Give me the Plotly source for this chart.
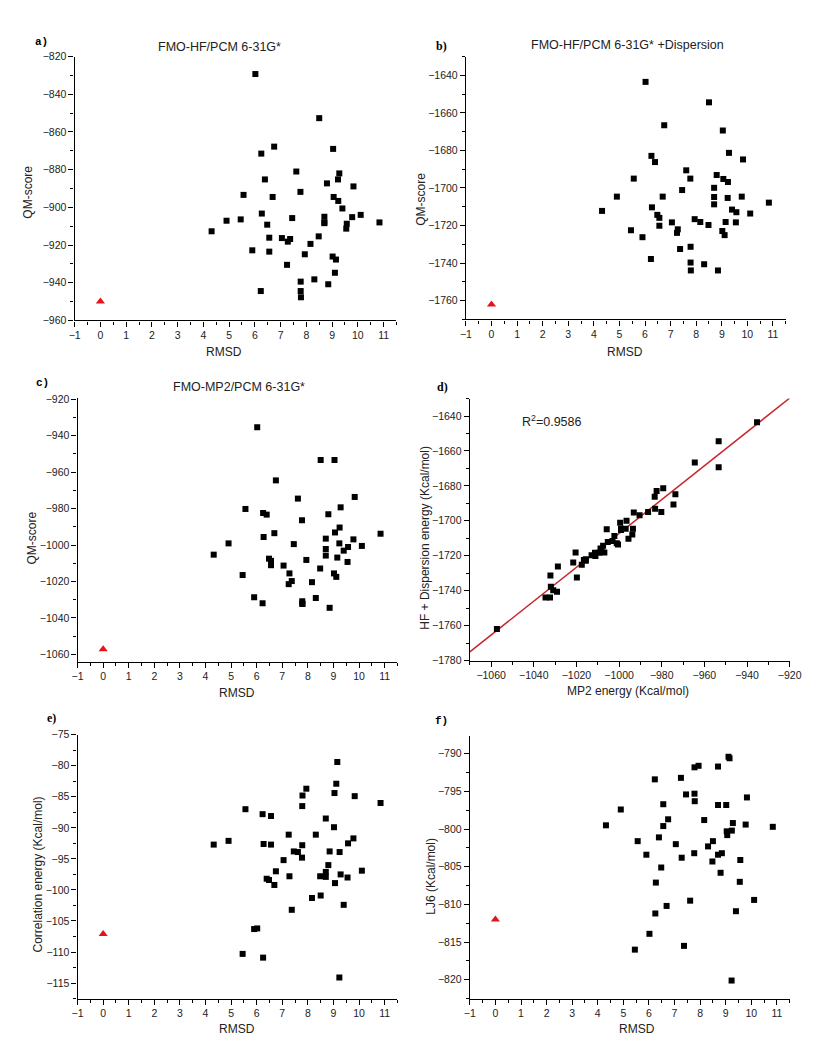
import numpy as np
import plotly.graph_objects as go

# ---------------- data ----------------
rmsd = [4.32, 4.90, 5.45, 5.56, 5.90, 6.02, 6.23, 6.25, 6.27, 6.39,
        6.48, 6.56, 6.56, 6.69, 6.75, 7.05, 7.25, 7.28, 7.37, 7.45,
        7.61, 7.77, 7.78, 7.78, 7.79, 7.94, 8.16, 8.31, 8.48, 8.50,
        8.70, 8.70, 8.70, 8.80, 8.85, 9.02, 9.04, 9.06, 9.11, 9.15,
        9.23, 9.24, 9.28, 9.40, 9.55, 9.57, 9.78, 9.83, 10.11, 10.84]

# a) FMO-HF/PCM 6-31G*
hf_score = [-912.7, -907.1, -906.4, -893.4, -922.8, -829.3, -944.4, -871.5, -903.3, -885.2,
            -909.2, -916.1, -923.5, -894.5, -867.8, -916.3, -930.5, -918.2, -916.8, -905.7,
            -881.0, -891.8, -939.4, -944.4, -947.7, -924.9, -919.4, -938.2, -915.4, -852.7,
            -908.0, -905.0, -908.4, -887.3, -940.8, -926.1, -869.0, -894.5, -934.7, -927.7,
            -885.2, -896.6, -882.0, -900.6, -911.3, -908.7, -905.2, -888.9, -904.0, -908.0]

# b) FMO-HF/PCM 6-31G* + Dispersion
hf_disp_score = [-1712.2, -1704.6, -1722.5, -1695.0, -1726.2, -1643.5, -1737.8, -1682.9, -1710.3, -1686.2,
                 -1714.3, -1715.9, -1720.1, -1704.6, -1666.6, -1718.3, -1723.9, -1722.0, -1732.5, -1701.1,
                 -1690.6, -1695.0, -1731.3, -1739.7, -1743.9, -1716.6, -1718.1, -1740.6, -1719.7, -1654.4,
                 -1699.9, -1708.7, -1704.8, -1693.1, -1743.9, -1722.9, -1669.4, -1695.2, -1725.1, -1718.1,
                 -1705.3, -1696.8, -1681.3, -1711.5, -1718.3, -1712.9, -1704.6, -1684.8, -1713.6, -1707.8]

# c) FMO-MP2/PCM 6-31G*
mp2_score = [-1005.3, -999.1, -1016.5, -980.2, -1028.7, -935.3, -1032.0, -982.4, -995.6, -983.3,
             -1007.5, -1008.7, -1011.1, -993.5, -964.5, -1011.3, -1021.5, -1015.6, -1019.8, -999.5,
             -974.5, -986.4, -1032.2, -1030.9, -1032.4, -1008.2, -1020.4, -1029.1, -1012.9, -953.3,
             -996.5, -1002.2, -1005.8, -983.1, -1034.5, -1015.6, -953.3, -993.1, -1017.5, -1006.9,
             -999.1, -990.4, -979.3, -1003.1, -1009.3, -1001.1, -996.9, -973.6, -1000.5, -993.8]

# e) correlation energy
corr_energy = [-92.7, -92.1, -110.3, -87.0, -106.3, -106.2, -87.8, -110.9, -92.6, -98.2,
               -98.4, -92.7, -88.1, -99.2, -97.0, -95.2, -91.1, -97.8, -103.2, -93.8,
               -93.9, -94.8, -92.8, -86.5, -84.8, -83.7, -101.3, -91.1, -97.8, -100.9,
               -88.5, -97.1, -97.9, -96.0, -93.8, -89.9, -84.4, -98.9, -82.9, -79.4,
               -114.1, -93.9, -97.5, -102.4, -98.0, -92.5, -91.7, -84.9, -96.9, -86.0]

# f) LJ6
lj6 = [-799.5, -797.4, -816.0, -801.6, -803.4, -813.9, -793.4, -811.2, -807.1, -801.1,
       -805.1, -799.6, -796.7, -810.2, -798.7, -802.0, -793.2, -803.8, -815.5, -795.4,
       -809.5, -803.2, -791.8, -795.3, -796.3, -791.6, -798.8, -802.3, -804.3, -801.6,
       -791.7, -803.4, -796.8, -805.8, -803.2, -796.8, -800.3, -800.8, -790.4, -790.6,
       -820.1, -800.2, -799.2, -810.9, -807.0, -804.1, -799.4, -795.8, -809.4, -799.7]

# native (reference) pose at RMSD = 0
ref_rmsd = [0.0]
ref_hf = [-950.0]
ref_hf_disp = [-1762.0]
ref_mp2 = [-1057.3]
ref_corr = [-107.1]
ref_lj6 = [-812.0]

r2_text = "R<sup>2</sup>=0.9586"

# ---------------- figure ----------------
W, H = 824, 1050
FONT = "Arial, Liberation Sans, sans-serif"
TICKFONT = dict(family=FONT, size=10.5, color="#222")
SQ = dict(symbol="square", size=6, color="black")
TRI = dict(symbol="triangle-up", size=8, color="#e3141c")

fig = go.Figure()


def xd(x0, x1):
    return [x0 / W, x1 / W]


def yd(top, bottom):
    return [1 - bottom / H, 1 - top / H]


def axis(dom, rng, tick0, dtick, minor, anchor):
    return dict(domain=dom, range=rng, anchor=anchor, tickmode="linear", tick0=tick0, dtick=dtick,
                showline=True, linecolor="black", linewidth=1.3, mirror=False,
                ticks="outside", ticklen=5, tickwidth=1.2, tickcolor="black",
                showgrid=False, zeroline=False, tickfont=TICKFONT,
                minor=dict(dtick=minor, tick0=tick0, ticks="outside", ticklen=3, tickwidth=1,
                           tickcolor="black", showgrid=False))


# panel geometry in pixels: (x_left, x_right, y_top, y_bottom)
geo = {
    1: (62, 391, 43, 310),
    2: (462, 789, 43, 309),
    3: (65, 392, 388, 655),
    4: (466, 793, 389, 654),
    5: (65, 392, 729, 996),
    6: (466, 793, 730, 996),
}
yspec = {
    1: ([-960, -820], -960, 20, 10),
    2: ([-1770, -1630], -1760, 20, 10),
    3: ([-1064, -919], -1060, 20, 10),
    4: ([-1780, -1630], -1780, 20, 10),
    5: ([-117.5, -75], -115, 5, 2.5),
    6: ([-822.5, -787.6], -820, 5, 2.5),
}
xspec = {n: ([-1, 11.5], -1, 1, 0.5) for n in (1, 2, 3, 5, 6)}
xspec[4] = ([-1070, -920], -1060, 20, 10)

layout = {}
for n in range(1, 7):
    x0, x1, t, b = geo[n]
    sx = "" if n == 1 else str(n)
    xr, xt0, xdt, xmn = xspec[n]
    yr, yt0, ydt, ymn = yspec[n]
    layout["xaxis" + sx] = axis(xd(x0, x1), xr, xt0, xdt, xmn, "y" + sx)
    layout["yaxis" + sx] = axis(yd(t, b), yr, yt0, ydt, ymn, "x" + sx)


def ax(n):
    return ("x", "y") if n == 1 else ("x%d" % n, "y%d" % n)


scatter_panels = [
    (1, hf_score, ref_hf),
    (2, hf_disp_score, ref_hf_disp),
    (3, mp2_score, ref_mp2),
    (5, corr_energy, ref_corr),
    (6, lj6, ref_lj6),
]
for n, vals, ref in scatter_panels:
    xa, ya = ax(n)
    fig.add_trace(go.Scatter(x=rmsd, y=vals, mode="markers", marker=SQ, xaxis=xa, yaxis=ya,
                             showlegend=False, cliponaxis=False))
    fig.add_trace(go.Scatter(x=ref_rmsd, y=ref, mode="markers", marker=TRI, xaxis=xa, yaxis=ya,
                             showlegend=False, cliponaxis=False))

# d) HF+Dispersion vs MP2 with linear fit
d_x = ref_mp2 + mp2_score
d_y = ref_hf_disp + hf_disp_score
slope, intercept = np.polyfit(d_x, d_y, 1)
line_x = np.array(xspec[4][0], dtype=float)
fig.add_trace(go.Scatter(x=line_x, y=slope * line_x + intercept, mode="lines",
                         line=dict(color="#c8242b", width=1.5), xaxis="x4", yaxis="y4",
                         showlegend=False))
fig.add_trace(go.Scatter(x=d_x, y=d_y, mode="markers", marker=SQ, xaxis="x4", yaxis="y4",
                         showlegend=False))

ann = []


def text(x, y, s, size=12, family=FONT, angle=0, xanchor="center", bold=False, color="#222"):
    if bold:
        s = "<b>%s</b>" % s
    ann.append(dict(x=x / W, y=1 - y / H, xref="paper", yref="paper", text=s, showarrow=False,
                    xanchor=xanchor, yanchor="middle", textangle=angle,
                    font=dict(family=family, size=size, color=color)))


MONO = "Liberation Mono, Courier New, monospace"
SERIF = "Liberation Serif, Times New Roman, serif"
# panel letters
text(28, 28, "a)", 11, MONO, bold=True, color="black")
text(437, 32, "b)", 12, SERIF, bold=True, color="black")
text(29, 373, "c)", 11, MONO, bold=True, color="black")
text(438, 377, "d)", 12, SERIF, bold=True, color="black")
text(38, 712, "e)", 12, SERIF, bold=True, color="black")
text(437, 715, "f)", 11, MONO, bold=True, color="black")
# titles
text(210, 33, "FMO-HF/PCM 6-31G*", 12.5)
text(627, 31, "FMO-HF/PCM 6-31G* +Dispersion", 12.5)
text(230, 377, "FMO-MP2/PCM 6-31G*", 12.5)
text(517, 412, r2_text, 12.5, xanchor="left")
# axis titles
text(215, 342, "RMSD", 12)
text(625, 342, "RMSD", 12)
text(228, 687, "RMSD", 12)
text(628, 685, "MP2 energy (Kcal/mol)", 12)
text(228, 1027, "RMSD", 12)
text(637, 1027, "RMSD", 12)
text(14, 180, "QM-score", 12, angle=-90)
text(416, 187, "QM-score", 12, angle=-90)
text(18, 530, "QM-score", 12, angle=-90)
text(420, 530, "HF + Dispersion energy (Kcal/mol)", 12, angle=-90)
text(25, 870, "Correlation energy (Kcal/mol)", 12, angle=-90)
text(426, 872, "LJ6 (Kcal/mol)", 12, angle=-90)

fig.update_layout(width=W, height=H, margin=dict(l=0, r=0, t=0, b=0, pad=0),
                  paper_bgcolor="white", plot_bgcolor="white", showlegend=False,
                  annotations=ann, font=dict(family=FONT, color="#222"), **layout)

fig.write_html("out.html")
